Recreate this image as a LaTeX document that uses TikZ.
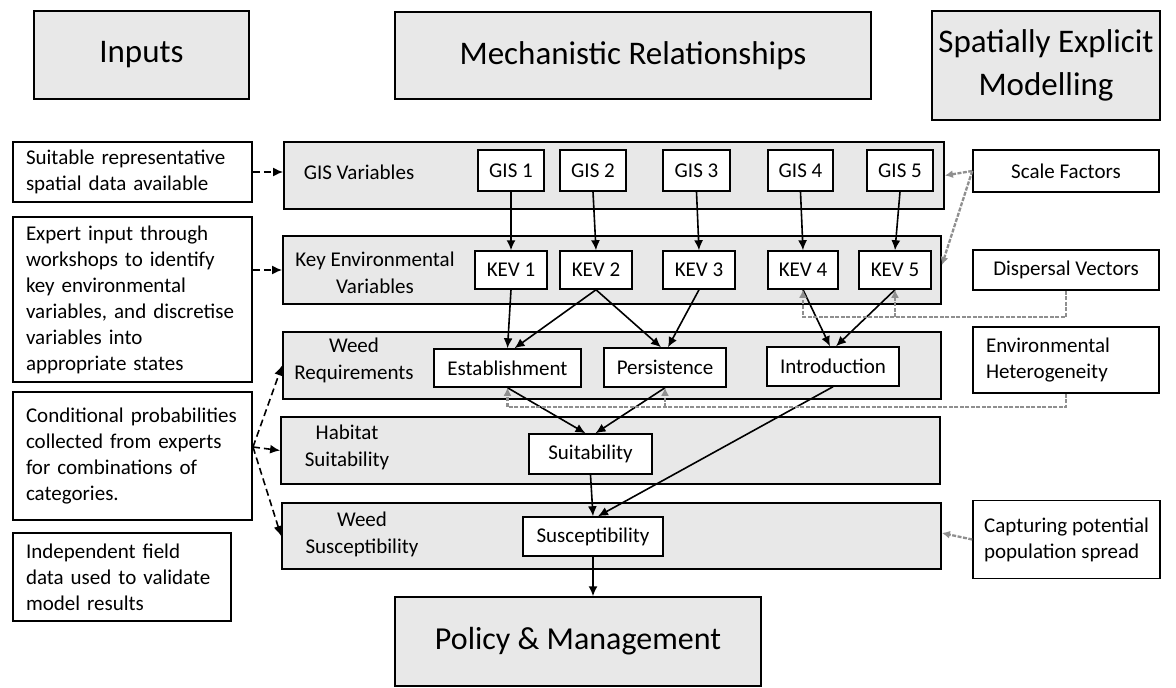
\documentclass[tikz,border=0pt]{standalone}
\usepackage{fontspec}
\setmainfont{Carlito}
\usetikzlibrary{arrows.meta,calc}
\definecolor{bandgray}{HTML}{E8E8E8}
\definecolor{dashgray}{HTML}{8F8F8F}
\begin{document}
\begin{tikzpicture}[x=1pt,y=-1pt,
  every node/.style={font=\fontsize{21}{26}\selectfont},
  hdr/.style={draw=black, line width=1.5pt, fill=bandgray, inner sep=0pt, font=\fontsize{33}{43}\selectfont, align=center},
  band/.style={draw=black, line width=1.8pt, fill=bandgray, inner sep=0pt},
  blabel/.style={align=center, font=\fontsize{21}{27}\selectfont, inner sep=0pt},
  wbox/.style={draw=black, line width=1.5pt, fill=white, inner sep=0pt, align=center},
  lbox/.style={draw=black, line width=1.5pt, fill=white, inner xsep=13pt, inner ysep=0pt, align=left},
  arr/.style={-{Latex[length=10pt,width=9pt]}, line width=1.6pt},
  darr/.style={arr, dash pattern=on 7pt off 4pt},
  garr/.style={-{Latex[length=8pt,width=8pt]}, draw=dashgray, line width=2.3pt, dash pattern=on 4pt off 1.5pt},
  gline/.style={draw=dashgray, line width=2.3pt, dash pattern=on 4pt off 1.5pt}
]
\useasboundingbox (0,0) rectangle (1176,688);

% headers
\node[hdr, minimum width=215pt, minimum height=88pt] (inputs) at (141.5,55) {Inputs};
\node[hdr, minimum width=476pt, minimum height=87pt] (mech) at (633,55.5) {Mechanistic Relationships};
\node[hdr, minimum width=228pt, minimum height=109pt] (spatial) at (1046,65.5) {Spatially Explicit\\Modelling};

% bands
\node[band, minimum width=660pt, minimum height=67pt] (gisband) at (614,175.5) {};
\node[band, minimum width=658pt, minimum height=68pt] (kevband) at (612,270) {};
\node[band, minimum width=658pt, minimum height=67pt] (reqband) at (612,365.5) {};
\node[band, minimum width=659pt, minimum height=67pt] (habband) at (610.5,450.5) {};
\node[band, minimum width=659pt, minimum height=66pt] (susband) at (611.5,536) {};
\node[hdr, minimum width=366pt, minimum height=89pt, font=\fontsize{32}{38}\selectfont] (policy) at (578,641.5) {Policy \& Management};

% band labels
\node[blabel] (gislab) at (359,172) {GIS Variables};
\node[blabel] (kevlab) at (375,273) {Key Environmental\\Variables};
\node[blabel] (reqlab) at (354,360) {Weed\\Requirements};
\node[blabel] (hablab) at (347,447) {Habitat\\Suitability};
\node[blabel] (suslab) at (362,534) {Weed\\Susceptibility};

% GIS boxes
\node[wbox, minimum width=66pt, minimum height=41pt] (gis1) at (511,170.5) {GIS 1};
\node[wbox, minimum width=66pt, minimum height=41pt] (gis2) at (593,170.5) {GIS 2};
\node[wbox, minimum width=67pt, minimum height=41pt] (gis3) at (696.5,170.5) {GIS 3};
\node[wbox, minimum width=65pt, minimum height=41pt] (gis4) at (800.5,170.5) {GIS 4};
\node[wbox, minimum width=66pt, minimum height=41pt] (gis5) at (900,170.5) {GIS 5};

% KEV boxes
\node[wbox, minimum width=72pt, minimum height=38pt] (kev1) at (511,270) {KEV 1};
\node[wbox, minimum width=72pt, minimum height=38pt] (kev2) at (596,270) {KEV 2};
\node[wbox, minimum width=72pt, minimum height=38pt] (kev3) at (699,270) {KEV 3};
\node[wbox, minimum width=70pt, minimum height=38pt] (kev4) at (803,270) {KEV 4};
\node[wbox, minimum width=72pt, minimum height=38pt] (kev5) at (895,270) {KEV 5};

% requirement boxes
\node[wbox, minimum width=147pt, minimum height=38pt] (estab) at (507.5,368) {Establishment};
\node[wbox, minimum width=122pt, minimum height=39pt] (persist) at (665,367.5) {Persistence};
\node[wbox, minimum width=132pt, minimum height=39pt] (intro) at (833,366.5) {Introduction};
\node[wbox, minimum width=123pt, minimum height=40pt] (suit) at (590.5,454) {Suitability};
\node[wbox, minimum width=140pt, minimum height=39pt] (susc) at (593,536.5) {Susceptibility};

% left input boxes
\node[lbox, text width=213pt, minimum height=60pt] (suitable) at (132.5,172) {Suitable representative\\spatial data available};
\node[lbox, text width=213pt, minimum height=165pt] (expert) at (132.5,299.5) {Expert input through\\workshops to identify\\key environmental\\variables, and discretise\\variables into\\appropriate states};
\node[lbox, text width=213pt, minimum height=128pt] (cond) at (132.5,456) {Conditional probabilities\\collected from experts\\for combinations of\\categories.};
\node[lbox, text width=192pt, minimum height=88pt] (indep) at (122,577) {Independent field\\data used to validate\\model results};

% right boxes
\node[wbox, minimum width=186pt, minimum height=42pt] (scale) at (1066,171) {Scale Factors};
\node[wbox, minimum width=186pt, minimum height=40pt] (disp) at (1066,270) {Dispersal Vectors};
\node[lbox, text width=160pt, minimum height=66pt] (envhet) at (1066,360) {Environmental\\Heterogeneity};
\node[draw=black, line width=1.5pt, fill=white, inner xsep=10pt, inner ysep=0pt, align=left, minimum width=187pt, minimum height=78pt] (capt) at (1066.5,539.5) {Capturing potential\\population spread};

% black arrows
\foreach \i in {1,...,5} \draw[arr] (gis\i.south) -- (kev\i.north);
\draw[arr] (kev1.south) -- (estab.north);
\draw[arr] (kev2.south) -- ([xshift=7pt]estab.north);
\draw[arr] (kev2.south) -- ([xshift=-4pt]persist.north);
\draw[arr] (kev3.south) -- ([xshift=3pt]persist.north);
\draw[arr] (kev4.south) -- ([xshift=-3pt]intro.north);
\draw[arr] (kev5.south) -- ([xshift=3pt]intro.north);
\draw[arr] (estab.south) -- ([xshift=-5pt]suit.north);
\draw[arr] (persist.south) -- ([xshift=5pt]suit.north);
\draw[arr] (suit.south) -- (susc.north);
\draw[arr] (intro.south) -- ([xshift=5pt]susc.north);
\draw[arr] (susc.south) -- (susc.south |- policy.north);

% black dashed arrows
\draw[darr] (suitable.east) -- (suitable.east -| gisband.west);
\draw[darr] (expert.east |- kevband.west) -- (kevband.west);
\coordinate (condj) at (253,447);
\draw[darr] (condj) -- (reqband.west);
\draw[darr] (condj) -- (habband.west);
\draw[darr] (condj) -- (susband.west);

% gray dashed arrows
\draw[garr] (scale.west) -- (gisband.east);
\draw[garr] (scale.west) -- ([yshift=5pt]kevband.east);
\coordinate (dturn) at (1066,317);
\coordinate (dbr) at (895,317);
\draw[garr] (disp.south) -- (dturn) -| (kev4.south);
\draw[garr] (dbr) -- (kev5.south);
\coordinate (eturn) at (1066,407);
\coordinate (ebr) at (665,407);
\draw[garr] (envhet.south) -- (eturn) -| (estab.south);
\draw[garr] (ebr) -- (persist.south);
\draw[garr] (capt.west) -- ([yshift=3pt]susband.east);
\end{tikzpicture}
\end{document}
